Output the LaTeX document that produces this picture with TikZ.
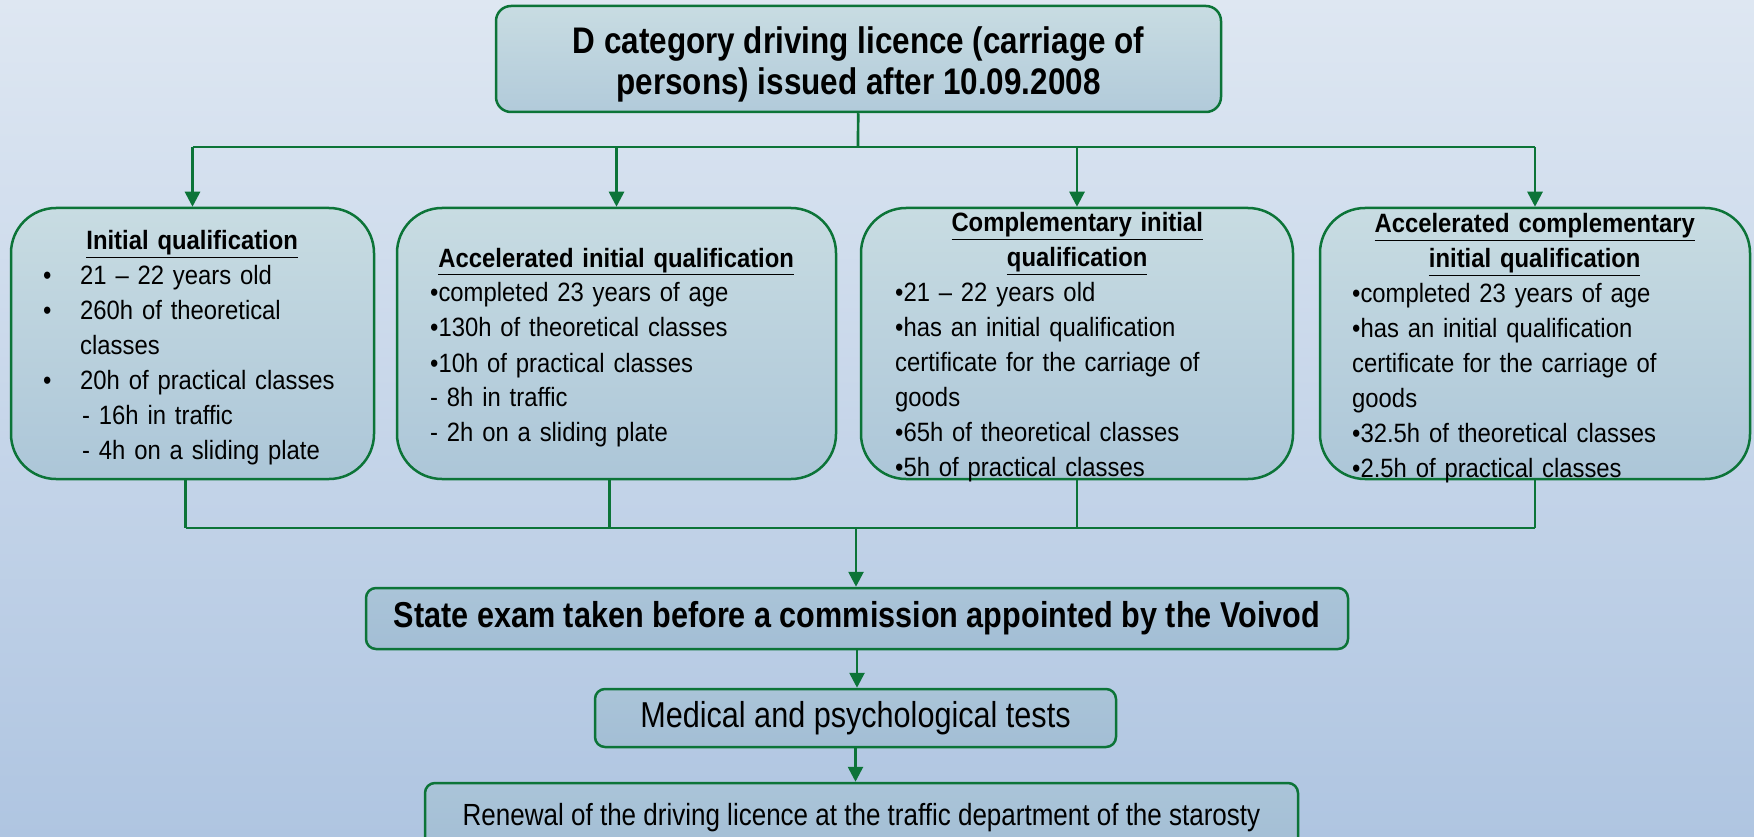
\documentclass[tikz,border=0pt]{standalone}
\usepackage{fontspec}
\setmainfont[FakeStretch=0.9]{Liberation Sans}
\newfontfamily\headfont[FakeStretch=0.85]{Liberation Sans}
\usetikzlibrary{arrows.meta}
\definecolor{bgtop}{RGB}{222,231,242}
\definecolor{bgbot}{RGB}{175,197,225}
\definecolor{boxtop}{RGB}{200,220,226}
\definecolor{boxbot}{RGB}{172,198,216}
\definecolor{lowtop}{RGB}{170,196,216}
\definecolor{lowbot}{RGB}{163,190,213}
\definecolor{lgreen}{RGB}{12,116,56}
\newcommand\bulitem{\makebox[37pt][l]{•}}
\newcommand\headline[1]{\makebox[\linewidth][c]{\underline{\textbf{#1}}}}

\begin{document}
\begin{tikzpicture}
  [x=1pt,y=-1pt,
   qbox/.style={draw=lgreen,line width=2.5pt,rounded corners=45pt,
     top color=boxtop,bottom color=boxbot,inner sep=0pt,minimum height=271pt},
   lowbox/.style={draw=lgreen,line width=2.5pt,rounded corners=10pt,
     top color=lowtop,bottom color=lowbot,inner sep=0pt},
   qtext/.style={anchor=base west,inner sep=0pt,align=left,
     font=\fontsize{26.5}{35}\selectfont},
   link/.style={draw=lgreen,line width=2.7pt},
   arrow/.style={link,-{Triangle[length=15pt,width=15pt]}}]
  \useasboundingbox (0,0) rectangle (1754,837);
  \shade[top color=bgtop,bottom color=bgbot] (0,0) rectangle (1754,837);

  \node[draw=lgreen,line width=2.5pt,rounded corners=15pt,top color=boxtop,
    bottom color=boxbot!80!boxtop,minimum width=725pt,minimum height=106pt]
    (top) at (858.5,59) {};
  \node[align=center,inner sep=0pt,font=\headfont\fontsize{37}{41}\selectfont\bfseries]
    (toptext) at (858.5,64) {D category driving licence (carriage of\\persons) issued after 10.09.2008};

  \node[qbox,minimum width=363pt] (q1) at (192.5,343.5) {};
  \node[qbox,minimum width=439pt] (q2) at (616.5,343.5) {};
  \node[qbox,minimum width=432pt] (q3) at (1077,343.5) {};
  \node[qbox,minimum width=430pt] (q4) at (1535,343.5) {};

  \node[qtext,text width=298pt] (t1) at (43,250) {\headline{Initial qualification}\\
    \bulitem21 – 22 years old\\
    \bulitem260h of theoretical\\
    \hspace*{37pt}classes\\
    \bulitem20h of practical classes\\
    \hspace*{39pt}- 16h in traffic\\
    \hspace*{39pt}- 4h on a sliding plate};
  \node[qtext,text width=372pt] (t2) at (430,267) {\headline{Accelerated initial qualification}\\
    •completed 23 years of age\\
    •130h of theoretical classes\\
    •10h of practical classes\\
    - 8h in traffic\\
    - 2h on a sliding plate};
  \node[qtext,text width=364pt] (t3) at (895,232) {\headline{Complementary initial}\\
    \headline{qualification}\\
    •21 – 22 years old\\
    •has an initial qualification\\
    certificate for the carriage of\\
    goods\\
    •65h of theoretical classes\\
    •5h of practical classes};
  \node[qtext,text width=365pt] (t4) at (1352,233) {\headline{Accelerated complementary}\\
    \headline{initial qualification}\\
    •completed 23 years of age\\
    •has an initial qualification\\
    certificate for the carriage of\\
    goods\\
    •32.5h of theoretical classes\\
    •2.5h of practical classes};

  \node[lowbox,minimum width=982pt,minimum height=61pt,
    font=\headfont\fontsize{36}{40}\selectfont\bfseries]
    (exam) at (857,618.5) {State exam taken before a commission appointed by the Voivod};
  \node[lowbox,minimum width=521pt,minimum height=58pt,
    font=\headfont\fontsize{36}{40}\selectfont]
    (med) at (855.5,718) {Medical and psychological tests};
  \node[lowbox,minimum width=873pt,minimum height=70pt,
    font=\headfont\fontsize{30.6}{34}\selectfont]
    (renew) at (861.5,818) {Renewal of the driving licence at the traffic department of the starosty};

  \coordinate (split) at (858,147);
  \coordinate (merge) at (856,528);
  \draw[link] (top) -- (split);
  \draw[link] (q1.north |- split) -- (q4.north |- split);
  \foreach \q in {q1,q2,q3,q4}
    \draw[arrow] (\q.north |- split) -- (\q.north);

  \draw[link] ([xshift=-7pt]q1.south) -- ([xshift=-7pt]q1.south |- merge);
  \draw[link] ([xshift=-7pt]q2.south) -- ([xshift=-7pt]q2.south |- merge);
  \foreach \q in {q3,q4}
    \draw[link] (\q.south) -- (\q.south |- merge);
  \draw[link] ([xshift=-7pt]q1.south |- merge) -- (q4.south |- merge);
  \draw[arrow] (merge) -- (merge |- exam.north);
  \draw[arrow] (exam.south) -- (exam.south |- med.north);
  \draw[arrow] (med.south) -- (med.south |- renew.north);

\end{tikzpicture}
\end{document}
